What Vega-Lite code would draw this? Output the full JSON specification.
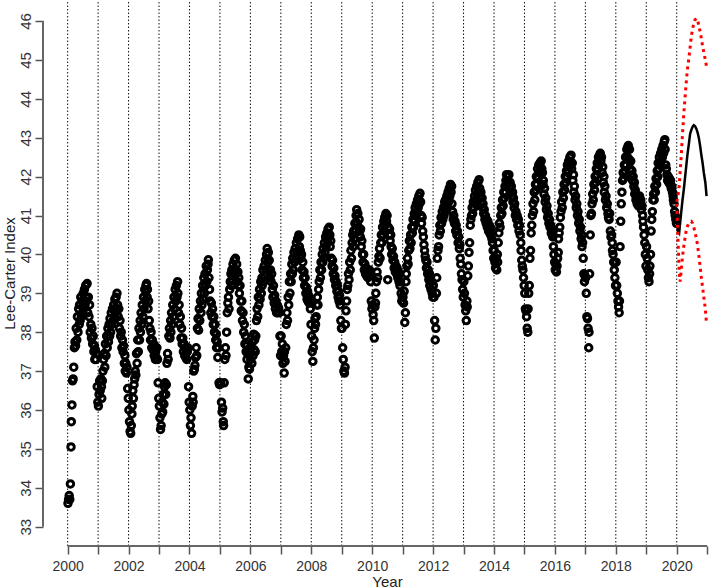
{
"$schema": "https://vega.github.io/schema/vega-lite/v6.json",
"width": 666, "height": 546,
"autosize": {"type": "none"},
"padding": {"left": 43, "top": 0, "right": 0, "bottom": 42},
"background": "white",
"config": {"view": {"stroke": null}, "font": "Liberation Sans"},
"encoding": {
 "x": {"field": "x", "type": "quantitative",
   "scale": {"domain": [1999.19, 2021.06], "nice": false, "zero": false},
   "axis": {"title": "Year", "values": [2000,2001,2002,2003,2004,2005,2006,2007,2008,2009,2010,2011,2012,2013,2014,2015,2016,2017,2018,2019,2020,2021],
     "format": "d", "labelExpr": "datum.value % 2 === 0 ? datum.label : ''",
     "domain": false, "grid": false, "tickSize": 8, "tickColor": "#555555", "tickWidth": 1.5,
     "labelFont": "Liberation Sans", "labelFontSize": 14, "labelColor": "#333333", "labelPadding": 5,
     "labelFlush": false, "labelOverlap": false, "labelBound": false,
     "titleFont": "Liberation Sans", "titleFontSize": 15, "titleFontWeight": "normal", "titleColor": "#222222",
     "titleX": 344, "titleY": 40, "titleBaseline": "alphabetic", "titleAlign": "center", "titleAnchor": null}},
 "y": {"field": "y", "type": "quantitative",
   "scale": {"domain": [32.504, 46.54], "nice": false, "zero": false},
   "axis": {"title": "Lee-Carter Index", "values": [33,34,35,36,37,38,39,40,41,42,43,44,45,46], "format": "d",
     "domain": false, "grid": false, "tickSize": 8, "tickColor": "#555555", "tickWidth": 1.5,
     "labelAngle": -90, "labelAlign": "center", "labelBaseline": "bottom", "labelPadding": 2,
     "labelFont": "Liberation Sans", "labelFontSize": 15, "labelColor": "#333333", "labelFlush": false, "labelOverlap": false, "labelBound": false,
     "titleFont": "Liberation Sans", "titleFontSize": 15, "titleFontWeight": "normal", "titleColor": "#222222",
     "titleX": -34, "titleY": 273, "titleAngle": -90, "titleAlign": "center", "titleBaseline": "middle", "titleAnchor": null}}
},
"datasets": {
"yrs": [{"x":2000,"y":32.504,"y2":46.54},{"x":2001,"y":32.504,"y2":46.54},{"x":2002,"y":32.504,"y2":46.54},{"x":2003,"y":32.504,"y2":46.54},{"x":2004,"y":32.504,"y2":46.54},{"x":2005,"y":32.504,"y2":46.54},{"x":2006,"y":32.504,"y2":46.54},{"x":2007,"y":32.504,"y2":46.54},{"x":2008,"y":32.504,"y2":46.54},{"x":2009,"y":32.504,"y2":46.54},{"x":2010,"y":32.504,"y2":46.54},{"x":2011,"y":32.504,"y2":46.54},{"x":2012,"y":32.504,"y2":46.54},{"x":2013,"y":32.504,"y2":46.54},{"x":2014,"y":32.504,"y2":46.54},{"x":2015,"y":32.504,"y2":46.54},{"x":2016,"y":32.504,"y2":46.54},{"x":2017,"y":32.504,"y2":46.54},{"x":2018,"y":32.504,"y2":46.54},{"x":2019,"y":32.504,"y2":46.54},{"x":2020,"y":32.504,"y2":46.54}],
"ax": [{"x":2000,"x2":2021,"y":32.504,"y2":32.504},{"x":1999.19,"x2":1999.19,"y":33,"y2":46}],
"fm": [{"x":2020.00,"y":40.8},{"x":2020.04,"y":40.6},{"x":2020.08,"y":40.55},{"x":2020.11,"y":40.8},{"x":2020.15,"y":41.1},{"x":2020.19,"y":41.4},{"x":2020.23,"y":41.65},{"x":2020.27,"y":41.95},{"x":2020.31,"y":42.25},{"x":2020.35,"y":42.55},{"x":2020.40,"y":42.85},{"x":2020.44,"y":43.1},{"x":2020.48,"y":43.2},{"x":2020.52,"y":43.28},{"x":2020.56,"y":43.32},{"x":2020.60,"y":43.3},{"x":2020.65,"y":43.22},{"x":2020.69,"y":43.12},{"x":2020.73,"y":42.98},{"x":2020.77,"y":42.78},{"x":2020.81,"y":42.55},{"x":2020.85,"y":42.35},{"x":2020.89,"y":42.1},{"x":2020.94,"y":41.85},{"x":2020.98,"y":41.5}],
"flo": [{"x":2020.00,"y":41.3},{"x":2020.04,"y":40.4},{"x":2020.08,"y":39.6},{"x":2020.11,"y":39.3},{"x":2020.15,"y":39.6},{"x":2020.19,"y":39.95},{"x":2020.23,"y":40.2},{"x":2020.27,"y":40.4},{"x":2020.31,"y":40.6},{"x":2020.35,"y":40.72},{"x":2020.40,"y":40.8},{"x":2020.44,"y":40.84},{"x":2020.48,"y":40.85},{"x":2020.52,"y":40.8},{"x":2020.56,"y":40.7},{"x":2020.60,"y":40.57},{"x":2020.65,"y":40.4},{"x":2020.69,"y":40.2},{"x":2020.73,"y":39.95},{"x":2020.77,"y":39.68},{"x":2020.81,"y":39.4},{"x":2020.85,"y":39.15},{"x":2020.89,"y":38.9},{"x":2020.94,"y":38.6},{"x":2020.98,"y":38.2}],
"fhi": [{"x":2020.00,"y":41.35},{"x":2020.04,"y":41.5},{"x":2020.08,"y":41.75},{"x":2020.11,"y":42.1},{"x":2020.15,"y":42.55},{"x":2020.19,"y":43.1},{"x":2020.23,"y":43.6},{"x":2020.27,"y":44.0},{"x":2020.31,"y":44.4},{"x":2020.35,"y":44.75},{"x":2020.40,"y":45.05},{"x":2020.44,"y":45.33},{"x":2020.48,"y":45.6},{"x":2020.52,"y":45.8},{"x":2020.56,"y":45.93},{"x":2020.60,"y":46.03},{"x":2020.65,"y":46.07},{"x":2020.69,"y":46.0},{"x":2020.73,"y":45.88},{"x":2020.77,"y":45.72},{"x":2020.81,"y":45.55},{"x":2020.85,"y":45.35},{"x":2020.89,"y":45.2},{"x":2020.94,"y":45.0},{"x":2020.98,"y":44.82}],
"pts": [
{"x":2000.01,"y":33.6},{"x":2000.03,"y":33.7},{"x":2000.05,"y":33.8},{"x":2000.07,"y":33.7},{"x":2000.09,"y":34.1},{"x":2000.11,"y":35.05},{"x":2000.12,"y":35.7},{"x":2000.14,"y":36.13},{"x":2000.16,"y":36.75},{"x":2000.18,"y":36.8},
{"x":2000.20,"y":37.1},{"x":2000.22,"y":37.6},{"x":2000.24,"y":37.75},{"x":2000.26,"y":37.65},{"x":2000.28,"y":38.1},{"x":2000.30,"y":37.8},{"x":2000.32,"y":38.4},{"x":2000.34,"y":38.0},{"x":2000.36,"y":38.6},{"x":2000.38,"y":38.2},
{"x":2000.39,"y":38.7},{"x":2000.41,"y":38.3},{"x":2000.43,"y":38.9},{"x":2000.45,"y":38.4},{"x":2000.47,"y":38.8},{"x":2000.49,"y":38.5},{"x":2000.51,"y":39.0},{"x":2000.53,"y":38.6},{"x":2000.55,"y":39.1},{"x":2000.57,"y":38.7},
{"x":2000.59,"y":39.2},{"x":2000.61,"y":38.8},{"x":2000.62,"y":38.9},{"x":2000.64,"y":39.25},{"x":2000.66,"y":38.5},{"x":2000.68,"y":38.9},{"x":2000.70,"y":38.4},{"x":2000.72,"y":38.7},{"x":2000.74,"y":38.0},{"x":2000.76,"y":38.2},
{"x":2000.78,"y":37.85},{"x":2000.80,"y":38.1},{"x":2000.82,"y":37.7},{"x":2000.84,"y":37.9},{"x":2000.86,"y":37.5},{"x":2000.88,"y":37.65},{"x":2000.89,"y":37.3},{"x":2000.91,"y":37.55},{"x":2000.93,"y":37.3},{"x":2000.95,"y":37.45},
{"x":2000.97,"y":36.6},{"x":2000.99,"y":36.2},
{"x":2001.01,"y":36.1},{"x":2001.03,"y":36.4},{"x":2001.05,"y":36.75},{"x":2001.07,"y":36.5},{"x":2001.09,"y":36.8},{"x":2001.11,"y":36.6},{"x":2001.12,"y":36.3},{"x":2001.14,"y":36.75},{"x":2001.16,"y":37.0},{"x":2001.18,"y":37.3},
{"x":2001.20,"y":37.45},{"x":2001.22,"y":37.1},{"x":2001.24,"y":37.7},{"x":2001.26,"y":37.4},{"x":2001.28,"y":37.9},{"x":2001.30,"y":37.6},{"x":2001.32,"y":38.1},{"x":2001.34,"y":37.75},{"x":2001.36,"y":38.2},{"x":2001.38,"y":37.9},
{"x":2001.39,"y":38.35},{"x":2001.41,"y":38.0},{"x":2001.43,"y":38.5},{"x":2001.45,"y":38.2},{"x":2001.47,"y":38.6},{"x":2001.49,"y":38.3},{"x":2001.51,"y":38.7},{"x":2001.53,"y":38.4},{"x":2001.55,"y":38.85},{"x":2001.57,"y":38.5},
{"x":2001.59,"y":38.9},{"x":2001.61,"y":38.6},{"x":2001.62,"y":39.0},{"x":2001.64,"y":38.7},{"x":2001.66,"y":38.4},{"x":2001.68,"y":38.6},{"x":2001.70,"y":38.1},{"x":2001.72,"y":38.3},{"x":2001.74,"y":37.9},{"x":2001.76,"y":38.0},
{"x":2001.78,"y":37.6},{"x":2001.80,"y":37.8},{"x":2001.82,"y":37.5},{"x":2001.84,"y":37.65},{"x":2001.86,"y":37.2},{"x":2001.88,"y":37.4},{"x":2001.89,"y":37.0},{"x":2001.91,"y":37.2},{"x":2001.93,"y":36.95},{"x":2001.95,"y":37.1},
{"x":2001.97,"y":36.55},{"x":2001.99,"y":36.3},
{"x":2002.01,"y":36.0},{"x":2002.03,"y":35.7},{"x":2002.05,"y":35.45},{"x":2002.07,"y":35.4},{"x":2002.09,"y":35.6},{"x":2002.11,"y":35.9},{"x":2002.12,"y":36.1},{"x":2002.14,"y":36.5},{"x":2002.16,"y":36.3},{"x":2002.18,"y":36.65},
{"x":2002.20,"y":36.8},{"x":2002.22,"y":37.0},{"x":2002.24,"y":36.9},{"x":2002.26,"y":37.45},{"x":2002.28,"y":37.2},{"x":2002.30,"y":37.8},{"x":2002.32,"y":37.5},{"x":2002.34,"y":38.1},{"x":2002.36,"y":37.8},{"x":2002.38,"y":38.3},
{"x":2002.39,"y":38.0},{"x":2002.41,"y":38.5},{"x":2002.43,"y":38.2},{"x":2002.45,"y":38.7},{"x":2002.47,"y":38.4},{"x":2002.49,"y":38.9},{"x":2002.51,"y":38.6},{"x":2002.53,"y":39.1},{"x":2002.55,"y":38.8},{"x":2002.57,"y":39.2},
{"x":2002.59,"y":39.25},{"x":2002.61,"y":38.9},{"x":2002.62,"y":39.1},{"x":2002.64,"y":38.6},{"x":2002.66,"y":38.8},{"x":2002.68,"y":38.3},{"x":2002.70,"y":38.1},{"x":2002.72,"y":37.8},{"x":2002.74,"y":38.0},{"x":2002.76,"y":37.6},
{"x":2002.78,"y":37.8},{"x":2002.80,"y":37.55},{"x":2002.82,"y":37.7},{"x":2002.84,"y":37.4},{"x":2002.86,"y":37.6},{"x":2002.88,"y":37.3},{"x":2002.89,"y":37.5},{"x":2002.91,"y":37.35},{"x":2002.93,"y":37.6},{"x":2002.95,"y":37.3},
{"x":2002.97,"y":36.7},{"x":2002.99,"y":36.3},
{"x":2003.01,"y":36.1},{"x":2003.03,"y":35.8},{"x":2003.05,"y":35.5},{"x":2003.07,"y":35.6},{"x":2003.09,"y":35.9},{"x":2003.11,"y":36.2},{"x":2003.12,"y":35.95},{"x":2003.14,"y":36.4},{"x":2003.16,"y":36.15},{"x":2003.18,"y":36.6},
{"x":2003.20,"y":36.7},{"x":2003.22,"y":36.4},{"x":2003.24,"y":36.65},{"x":2003.26,"y":37.2},{"x":2003.28,"y":37.45},{"x":2003.30,"y":37.3},{"x":2003.32,"y":37.9},{"x":2003.34,"y":38.1},{"x":2003.36,"y":37.85},{"x":2003.38,"y":38.3},
{"x":2003.39,"y":38.0},{"x":2003.41,"y":38.5},{"x":2003.43,"y":38.2},{"x":2003.45,"y":38.7},{"x":2003.47,"y":38.4},{"x":2003.49,"y":38.9},{"x":2003.51,"y":38.6},{"x":2003.53,"y":39.1},{"x":2003.55,"y":38.8},{"x":2003.57,"y":39.2},
{"x":2003.59,"y":38.9},{"x":2003.61,"y":39.3},{"x":2003.62,"y":39.0},{"x":2003.64,"y":38.5},{"x":2003.66,"y":38.7},{"x":2003.68,"y":38.2},{"x":2003.70,"y":38.4},{"x":2003.72,"y":37.85},{"x":2003.74,"y":38.1},{"x":2003.76,"y":37.7},
{"x":2003.78,"y":37.85},{"x":2003.80,"y":37.5},{"x":2003.82,"y":37.7},{"x":2003.84,"y":37.4},{"x":2003.86,"y":37.6},{"x":2003.88,"y":37.35},{"x":2003.89,"y":37.55},{"x":2003.91,"y":37.3},{"x":2003.93,"y":37.5},{"x":2003.95,"y":37.6},
{"x":2003.97,"y":36.6},{"x":2003.99,"y":36.2},
{"x":2004.01,"y":36.0},{"x":2004.03,"y":35.6},{"x":2004.05,"y":35.8},{"x":2004.07,"y":35.4},{"x":2004.09,"y":36.1},{"x":2004.11,"y":36.35},{"x":2004.12,"y":36.2},{"x":2004.14,"y":37.0},{"x":2004.16,"y":37.05},{"x":2004.18,"y":37.15},
{"x":2004.20,"y":37.35},{"x":2004.22,"y":37.6},{"x":2004.24,"y":37.4},{"x":2004.26,"y":38.1},{"x":2004.28,"y":38.35},{"x":2004.30,"y":38.05},{"x":2004.32,"y":38.6},{"x":2004.34,"y":38.3},{"x":2004.36,"y":38.8},{"x":2004.38,"y":38.5},
{"x":2004.39,"y":39.0},{"x":2004.41,"y":38.7},{"x":2004.43,"y":39.2},{"x":2004.45,"y":38.85},{"x":2004.47,"y":39.4},{"x":2004.49,"y":39.0},{"x":2004.51,"y":39.5},{"x":2004.53,"y":39.2},{"x":2004.55,"y":39.7},{"x":2004.57,"y":39.3},
{"x":2004.59,"y":39.6},{"x":2004.61,"y":39.75},{"x":2004.62,"y":39.86},{"x":2004.64,"y":39.4},{"x":2004.66,"y":39.1},{"x":2004.68,"y":38.8},{"x":2004.70,"y":38.5},{"x":2004.72,"y":38.75},{"x":2004.74,"y":38.4},{"x":2004.76,"y":38.6},
{"x":2004.78,"y":38.2},{"x":2004.80,"y":38.4},{"x":2004.82,"y":38.0},{"x":2004.84,"y":38.2},{"x":2004.86,"y":37.8},{"x":2004.88,"y":37.95},{"x":2004.89,"y":37.6},{"x":2004.91,"y":37.75},{"x":2004.93,"y":37.35},{"x":2004.95,"y":37.6},
{"x":2004.97,"y":36.7},{"x":2004.99,"y":36.65},
{"x":2005.01,"y":36.7},{"x":2005.03,"y":36.68},{"x":2005.05,"y":36.2},{"x":2005.07,"y":35.95},{"x":2005.09,"y":36.05},{"x":2005.11,"y":35.7},{"x":2005.12,"y":35.6},{"x":2005.14,"y":36.7},{"x":2005.16,"y":37.3},{"x":2005.18,"y":37.6},
{"x":2005.20,"y":37.4},{"x":2005.22,"y":38.0},{"x":2005.24,"y":38.5},{"x":2005.26,"y":38.75},{"x":2005.28,"y":38.9},{"x":2005.30,"y":38.6},{"x":2005.32,"y":39.1},{"x":2005.34,"y":39.3},{"x":2005.36,"y":39.5},{"x":2005.38,"y":39.2},
{"x":2005.39,"y":39.6},{"x":2005.41,"y":39.35},{"x":2005.43,"y":39.75},{"x":2005.45,"y":39.5},{"x":2005.47,"y":39.85},{"x":2005.49,"y":39.6},{"x":2005.51,"y":39.9},{"x":2005.53,"y":39.5},{"x":2005.55,"y":39.75},{"x":2005.57,"y":39.3},
{"x":2005.59,"y":39.55},{"x":2005.61,"y":39.2},{"x":2005.62,"y":39.4},{"x":2005.64,"y":39.0},{"x":2005.66,"y":39.2},{"x":2005.68,"y":38.8},{"x":2005.70,"y":38.55},{"x":2005.72,"y":38.8},{"x":2005.74,"y":38.3},{"x":2005.76,"y":38.5},
{"x":2005.78,"y":38.0},{"x":2005.80,"y":38.2},{"x":2005.82,"y":37.7},{"x":2005.84,"y":37.9},{"x":2005.86,"y":37.5},{"x":2005.88,"y":37.65},{"x":2005.89,"y":37.3},{"x":2005.91,"y":37.45},{"x":2005.93,"y":36.8},{"x":2005.95,"y":37.1},
{"x":2005.97,"y":37.05},{"x":2005.99,"y":37.5},
{"x":2006.01,"y":37.3},{"x":2006.03,"y":37.6},{"x":2006.05,"y":37.2},{"x":2006.07,"y":37.75},{"x":2006.09,"y":37.4},{"x":2006.11,"y":37.95},{"x":2006.12,"y":37.55},{"x":2006.14,"y":37.8},{"x":2006.16,"y":37.5},{"x":2006.18,"y":37.9},
{"x":2006.20,"y":38.3},{"x":2006.22,"y":38.6},{"x":2006.24,"y":38.4},{"x":2006.26,"y":38.9},{"x":2006.28,"y":38.7},{"x":2006.30,"y":39.1},{"x":2006.32,"y":38.85},{"x":2006.34,"y":39.3},{"x":2006.36,"y":39.0},{"x":2006.38,"y":39.4},
{"x":2006.39,"y":39.2},{"x":2006.41,"y":39.6},{"x":2006.43,"y":39.3},{"x":2006.45,"y":39.7},{"x":2006.47,"y":39.45},{"x":2006.49,"y":39.85},{"x":2006.51,"y":39.6},{"x":2006.53,"y":40.0},{"x":2006.55,"y":40.15},{"x":2006.57,"y":39.8},
{"x":2006.59,"y":40.05},{"x":2006.61,"y":39.6},{"x":2006.62,"y":39.85},{"x":2006.64,"y":39.4},{"x":2006.66,"y":39.6},{"x":2006.68,"y":39.3},{"x":2006.70,"y":39.5},{"x":2006.72,"y":39.1},{"x":2006.74,"y":38.9},{"x":2006.76,"y":39.2},
{"x":2006.78,"y":38.75},{"x":2006.80,"y":38.95},{"x":2006.82,"y":38.6},{"x":2006.84,"y":38.8},{"x":2006.86,"y":38.5},{"x":2006.88,"y":38.7},{"x":2006.89,"y":38.5},{"x":2006.91,"y":38.65},{"x":2006.93,"y":38.6},{"x":2006.95,"y":38.5},
{"x":2006.97,"y":37.9},{"x":2006.99,"y":37.4},
{"x":2007.01,"y":37.9},{"x":2007.03,"y":37.5},{"x":2007.05,"y":37.7},{"x":2007.07,"y":37.2},{"x":2007.09,"y":37.4},{"x":2007.11,"y":36.95},{"x":2007.12,"y":37.5},{"x":2007.14,"y":37.25},{"x":2007.16,"y":37.6},{"x":2007.18,"y":38.2},
{"x":2007.20,"y":38.5},{"x":2007.22,"y":38.3},{"x":2007.24,"y":38.9},{"x":2007.26,"y":38.7},{"x":2007.28,"y":39.3},{"x":2007.30,"y":39.0},{"x":2007.32,"y":39.5},{"x":2007.34,"y":39.3},{"x":2007.36,"y":39.75},{"x":2007.38,"y":39.5},
{"x":2007.39,"y":39.9},{"x":2007.41,"y":39.6},{"x":2007.43,"y":40.05},{"x":2007.45,"y":39.8},{"x":2007.47,"y":40.15},{"x":2007.49,"y":39.9},{"x":2007.51,"y":40.3},{"x":2007.53,"y":40.05},{"x":2007.55,"y":40.4},{"x":2007.57,"y":40.1},
{"x":2007.59,"y":40.5},{"x":2007.61,"y":40.2},{"x":2007.62,"y":40.45},{"x":2007.64,"y":40.1},{"x":2007.66,"y":39.9},{"x":2007.68,"y":40.0},{"x":2007.70,"y":39.6},{"x":2007.72,"y":39.8},{"x":2007.74,"y":39.4},{"x":2007.76,"y":39.55},
{"x":2007.78,"y":39.2},{"x":2007.80,"y":39.4},{"x":2007.82,"y":39.0},{"x":2007.84,"y":39.15},{"x":2007.86,"y":38.85},{"x":2007.88,"y":39.05},{"x":2007.89,"y":38.8},{"x":2007.91,"y":38.95},{"x":2007.93,"y":38.75},{"x":2007.95,"y":38.85},
{"x":2007.97,"y":38.6},{"x":2007.99,"y":38.2},
{"x":2008.01,"y":37.9},{"x":2008.03,"y":37.5},{"x":2008.05,"y":37.25},{"x":2008.07,"y":37.6},{"x":2008.09,"y":37.8},{"x":2008.11,"y":38.1},{"x":2008.12,"y":38.35},{"x":2008.14,"y":38.2},{"x":2008.16,"y":38.4},{"x":2008.18,"y":38.7},
{"x":2008.20,"y":38.9},{"x":2008.22,"y":38.7},{"x":2008.24,"y":39.1},{"x":2008.26,"y":39.3},{"x":2008.28,"y":39.6},{"x":2008.30,"y":39.4},{"x":2008.32,"y":39.8},{"x":2008.34,"y":39.6},{"x":2008.36,"y":40.0},{"x":2008.38,"y":39.8},
{"x":2008.39,"y":40.15},{"x":2008.41,"y":39.9},{"x":2008.43,"y":40.3},{"x":2008.45,"y":40.05},{"x":2008.47,"y":40.45},{"x":2008.49,"y":40.2},{"x":2008.51,"y":40.55},{"x":2008.53,"y":40.35},{"x":2008.55,"y":40.65},{"x":2008.57,"y":40.45},
{"x":2008.59,"y":40.7},{"x":2008.61,"y":40.5},{"x":2008.62,"y":40.2},{"x":2008.64,"y":40.35},{"x":2008.66,"y":39.9},{"x":2008.68,"y":39.7},{"x":2008.70,"y":39.85},{"x":2008.72,"y":39.5},{"x":2008.74,"y":39.65},{"x":2008.76,"y":39.35},
{"x":2008.78,"y":39.45},{"x":2008.80,"y":39.2},{"x":2008.82,"y":39.3},{"x":2008.84,"y":39.05},{"x":2008.86,"y":39.2},{"x":2008.88,"y":38.9},{"x":2008.89,"y":39.05},{"x":2008.91,"y":38.8},{"x":2008.93,"y":38.95},{"x":2008.95,"y":38.7},
{"x":2008.97,"y":38.3},{"x":2008.99,"y":38.1},
{"x":2009.01,"y":38.1},{"x":2009.03,"y":37.6},{"x":2009.05,"y":37.3},{"x":2009.07,"y":37.0},{"x":2009.09,"y":36.95},{"x":2009.11,"y":37.1},{"x":2009.12,"y":38.2},{"x":2009.14,"y":38.55},{"x":2009.16,"y":38.8},{"x":2009.18,"y":39.1},
{"x":2009.20,"y":39.2},{"x":2009.22,"y":39.5},{"x":2009.24,"y":39.35},{"x":2009.26,"y":39.8},{"x":2009.28,"y":39.6},{"x":2009.30,"y":40.1},{"x":2009.32,"y":39.9},{"x":2009.34,"y":40.3},{"x":2009.36,"y":40.5},{"x":2009.38,"y":40.2},
{"x":2009.39,"y":40.6},{"x":2009.41,"y":40.4},{"x":2009.43,"y":40.8},{"x":2009.45,"y":40.6},{"x":2009.47,"y":41.0},{"x":2009.49,"y":41.15},{"x":2009.51,"y":40.8},{"x":2009.53,"y":41.05},{"x":2009.55,"y":40.7},{"x":2009.57,"y":40.9},
{"x":2009.59,"y":40.6},{"x":2009.61,"y":40.45},{"x":2009.62,"y":40.65},{"x":2009.64,"y":40.2},{"x":2009.66,"y":40.35},{"x":2009.68,"y":40.0},{"x":2009.70,"y":39.8},{"x":2009.72,"y":40.0},{"x":2009.74,"y":39.6},{"x":2009.76,"y":39.75},
{"x":2009.78,"y":39.5},{"x":2009.80,"y":39.65},{"x":2009.82,"y":39.45},{"x":2009.84,"y":39.6},{"x":2009.86,"y":39.4},{"x":2009.88,"y":39.55},{"x":2009.89,"y":39.45},{"x":2009.91,"y":39.6},{"x":2009.93,"y":39.5},{"x":2009.95,"y":39.3},
{"x":2009.97,"y":38.8},{"x":2009.99,"y":38.6},
{"x":2010.01,"y":38.7},{"x":2010.03,"y":38.45},{"x":2010.05,"y":38.3},{"x":2010.07,"y":37.85},{"x":2010.09,"y":38.65},{"x":2010.11,"y":38.75},{"x":2010.12,"y":39.0},{"x":2010.14,"y":39.3},{"x":2010.16,"y":39.55},{"x":2010.18,"y":39.4},
{"x":2010.20,"y":39.8},{"x":2010.22,"y":39.95},{"x":2010.24,"y":40.15},{"x":2010.26,"y":39.9},{"x":2010.28,"y":40.3},{"x":2010.30,"y":40.5},{"x":2010.32,"y":40.3},{"x":2010.34,"y":40.7},{"x":2010.36,"y":40.5},{"x":2010.38,"y":40.85},
{"x":2010.39,"y":40.6},{"x":2010.41,"y":40.95},{"x":2010.43,"y":40.75},{"x":2010.45,"y":41.05},{"x":2010.47,"y":40.85},{"x":2010.49,"y":41.0},{"x":2010.51,"y":39.35},{"x":2010.53,"y":40.7},{"x":2010.55,"y":40.5},{"x":2010.57,"y":40.65},
{"x":2010.59,"y":40.35},{"x":2010.61,"y":40.5},{"x":2010.62,"y":40.2},{"x":2010.64,"y":40.0},{"x":2010.66,"y":40.15},{"x":2010.68,"y":39.85},{"x":2010.70,"y":39.95},{"x":2010.72,"y":39.65},{"x":2010.74,"y":39.8},{"x":2010.76,"y":39.55},
{"x":2010.78,"y":39.7},{"x":2010.80,"y":39.5},{"x":2010.82,"y":39.65},{"x":2010.84,"y":39.4},{"x":2010.86,"y":39.55},{"x":2010.88,"y":39.3},{"x":2010.89,"y":39.5},{"x":2010.91,"y":39.2},{"x":2010.93,"y":39.3},{"x":2010.95,"y":39.0},
{"x":2010.97,"y":38.8},{"x":2010.99,"y":38.9},
{"x":2011.01,"y":38.9},{"x":2011.03,"y":38.75},{"x":2011.05,"y":39.05},{"x":2011.07,"y":38.25},{"x":2011.09,"y":38.5},{"x":2011.11,"y":39.3},{"x":2011.12,"y":39.5},{"x":2011.14,"y":39.7},{"x":2011.16,"y":39.9},{"x":2011.18,"y":39.75},
{"x":2011.20,"y":40.1},{"x":2011.22,"y":40.35},{"x":2011.24,"y":40.15},{"x":2011.26,"y":40.5},{"x":2011.28,"y":40.3},{"x":2011.30,"y":40.7},{"x":2011.32,"y":40.55},{"x":2011.34,"y":40.9},{"x":2011.36,"y":40.7},{"x":2011.38,"y":41.05},
{"x":2011.39,"y":40.85},{"x":2011.41,"y":41.2},{"x":2011.43,"y":41.0},{"x":2011.45,"y":41.3},{"x":2011.47,"y":41.1},{"x":2011.49,"y":41.4},{"x":2011.51,"y":41.2},{"x":2011.53,"y":41.5},{"x":2011.55,"y":41.3},{"x":2011.57,"y":41.57},
{"x":2011.59,"y":41.35},{"x":2011.61,"y":41.0},{"x":2011.62,"y":40.8},{"x":2011.64,"y":40.95},{"x":2011.66,"y":40.6},{"x":2011.68,"y":40.45},{"x":2011.70,"y":40.25},{"x":2011.72,"y":40.1},{"x":2011.74,"y":39.95},{"x":2011.76,"y":39.85},
{"x":2011.78,"y":39.65},{"x":2011.80,"y":39.8},{"x":2011.82,"y":39.5},{"x":2011.84,"y":39.6},{"x":2011.86,"y":39.35},{"x":2011.88,"y":39.5},{"x":2011.89,"y":39.2},{"x":2011.91,"y":39.4},{"x":2011.93,"y":39.1},{"x":2011.95,"y":39.3},
{"x":2011.97,"y":39.0},{"x":2011.99,"y":38.9},
{"x":2012.01,"y":39.2},{"x":2012.03,"y":38.9},{"x":2012.05,"y":38.3},{"x":2012.07,"y":37.8},{"x":2012.09,"y":38.1},{"x":2012.11,"y":39.0},{"x":2012.12,"y":39.4},{"x":2012.14,"y":39.9},{"x":2012.16,"y":40.1},{"x":2012.18,"y":40.2},
{"x":2012.20,"y":40.5},{"x":2012.22,"y":40.75},{"x":2012.24,"y":40.6},{"x":2012.26,"y":40.95},{"x":2012.28,"y":40.8},{"x":2012.30,"y":41.1},{"x":2012.32,"y":40.9},{"x":2012.34,"y":41.2},{"x":2012.36,"y":41.0},{"x":2012.38,"y":41.35},
{"x":2012.39,"y":41.1},{"x":2012.41,"y":41.4},{"x":2012.43,"y":41.2},{"x":2012.45,"y":41.5},{"x":2012.47,"y":41.3},{"x":2012.49,"y":41.6},{"x":2012.51,"y":41.35},{"x":2012.53,"y":41.7},{"x":2012.55,"y":41.5},{"x":2012.57,"y":41.8},
{"x":2012.59,"y":41.6},{"x":2012.61,"y":41.75},{"x":2012.62,"y":41.3},{"x":2012.64,"y":41.1},{"x":2012.66,"y":40.9},{"x":2012.68,"y":41.0},{"x":2012.70,"y":40.8},{"x":2012.72,"y":40.85},{"x":2012.74,"y":40.6},{"x":2012.76,"y":40.75},
{"x":2012.78,"y":40.5},{"x":2012.80,"y":40.6},{"x":2012.82,"y":40.3},{"x":2012.84,"y":40.45},{"x":2012.86,"y":40.15},{"x":2012.88,"y":40.25},{"x":2012.89,"y":39.9},{"x":2012.91,"y":39.75},{"x":2012.93,"y":39.5},{"x":2012.95,"y":39.35},
{"x":2012.97,"y":39.1},{"x":2012.99,"y":38.9},
{"x":2013.01,"y":39.3},{"x":2013.03,"y":39.0},{"x":2013.05,"y":38.7},{"x":2013.07,"y":38.55},{"x":2013.09,"y":38.3},{"x":2013.11,"y":38.8},{"x":2013.12,"y":38.65},{"x":2013.14,"y":39.45},{"x":2013.16,"y":39.7},{"x":2013.18,"y":40.05},
{"x":2013.20,"y":40.3},{"x":2013.22,"y":40.75},{"x":2013.24,"y":40.9},{"x":2013.26,"y":41.0},{"x":2013.28,"y":41.2},{"x":2013.30,"y":41.05},{"x":2013.32,"y":41.35},{"x":2013.34,"y":41.2},{"x":2013.36,"y":41.5},{"x":2013.38,"y":41.3},
{"x":2013.39,"y":41.65},{"x":2013.41,"y":41.4},{"x":2013.43,"y":41.75},{"x":2013.45,"y":41.55},{"x":2013.47,"y":41.85},{"x":2013.49,"y":41.6},{"x":2013.51,"y":41.92},{"x":2013.53,"y":41.7},{"x":2013.55,"y":41.5},{"x":2013.57,"y":41.6},
{"x":2013.59,"y":41.35},{"x":2013.61,"y":41.45},{"x":2013.62,"y":41.2},{"x":2013.64,"y":41.3},{"x":2013.66,"y":41.05},{"x":2013.68,"y":41.15},{"x":2013.70,"y":40.9},{"x":2013.72,"y":41.0},{"x":2013.74,"y":40.8},{"x":2013.76,"y":40.9},
{"x":2013.78,"y":40.7},{"x":2013.80,"y":40.85},{"x":2013.82,"y":40.6},{"x":2013.84,"y":40.75},{"x":2013.86,"y":40.55},{"x":2013.88,"y":40.7},{"x":2013.89,"y":40.5},{"x":2013.91,"y":40.65},{"x":2013.93,"y":40.4},{"x":2013.95,"y":40.3},
{"x":2013.97,"y":40.1},{"x":2013.99,"y":39.9},
{"x":2014.01,"y":40.1},{"x":2014.03,"y":39.8},{"x":2014.05,"y":39.65},{"x":2014.07,"y":39.9},{"x":2014.09,"y":39.6},{"x":2014.11,"y":40.0},{"x":2014.12,"y":39.8},{"x":2014.14,"y":40.3},{"x":2014.16,"y":40.55},{"x":2014.18,"y":40.8},
{"x":2014.20,"y":40.7},{"x":2014.22,"y":41.0},{"x":2014.24,"y":41.2},{"x":2014.26,"y":41.05},{"x":2014.28,"y":41.4},{"x":2014.30,"y":41.25},{"x":2014.32,"y":41.6},{"x":2014.34,"y":41.45},{"x":2014.36,"y":41.75},{"x":2014.38,"y":41.6},
{"x":2014.39,"y":41.9},{"x":2014.41,"y":42.05},{"x":2014.43,"y":41.8},{"x":2014.45,"y":42.0},{"x":2014.47,"y":41.85},{"x":2014.49,"y":42.05},{"x":2014.51,"y":41.7},{"x":2014.53,"y":41.85},{"x":2014.55,"y":41.6},{"x":2014.57,"y":41.75},
{"x":2014.59,"y":41.5},{"x":2014.61,"y":41.6},{"x":2014.62,"y":41.35},{"x":2014.64,"y":41.45},{"x":2014.66,"y":41.2},{"x":2014.68,"y":41.3},{"x":2014.70,"y":41.0},{"x":2014.72,"y":41.1},{"x":2014.74,"y":40.9},{"x":2014.76,"y":41.0},
{"x":2014.78,"y":40.75},{"x":2014.80,"y":40.9},{"x":2014.82,"y":40.6},{"x":2014.84,"y":40.75},{"x":2014.86,"y":40.5},{"x":2014.88,"y":40.3},{"x":2014.89,"y":40.1},{"x":2014.91,"y":39.85},{"x":2014.93,"y":39.7},{"x":2014.95,"y":39.6},
{"x":2014.97,"y":39.4},{"x":2014.99,"y":39.2},
{"x":2015.01,"y":39.0},{"x":2015.03,"y":38.6},{"x":2015.05,"y":38.55},{"x":2015.07,"y":38.4},{"x":2015.09,"y":38.1},{"x":2015.11,"y":38.0},{"x":2015.12,"y":38.6},{"x":2015.14,"y":39.0},{"x":2015.16,"y":39.2},{"x":2015.18,"y":39.9},
{"x":2015.20,"y":40.1},{"x":2015.22,"y":40.55},{"x":2015.24,"y":40.75},{"x":2015.26,"y":41.0},{"x":2015.28,"y":41.3},{"x":2015.30,"y":41.1},{"x":2015.32,"y":41.6},{"x":2015.34,"y":41.4},{"x":2015.36,"y":41.8},{"x":2015.38,"y":41.65},
{"x":2015.39,"y":42.0},{"x":2015.41,"y":41.8},{"x":2015.43,"y":42.2},{"x":2015.45,"y":41.95},{"x":2015.47,"y":42.3},{"x":2015.49,"y":42.1},{"x":2015.51,"y":42.35},{"x":2015.53,"y":42.15},{"x":2015.55,"y":42.4},{"x":2015.57,"y":42.2},
{"x":2015.59,"y":42.1},{"x":2015.61,"y":41.8},{"x":2015.62,"y":41.9},{"x":2015.64,"y":41.55},{"x":2015.66,"y":41.7},{"x":2015.68,"y":41.35},{"x":2015.70,"y":41.45},{"x":2015.72,"y":41.15},{"x":2015.74,"y":41.25},{"x":2015.76,"y":40.95},
{"x":2015.78,"y":41.05},{"x":2015.80,"y":40.8},{"x":2015.82,"y":40.9},{"x":2015.84,"y":40.7},{"x":2015.86,"y":40.75},{"x":2015.88,"y":40.55},{"x":2015.89,"y":40.65},{"x":2015.91,"y":40.5},{"x":2015.93,"y":40.45},{"x":2015.95,"y":40.2},
{"x":2015.97,"y":40.0},{"x":2015.99,"y":39.8},
{"x":2016.01,"y":39.6},{"x":2016.03,"y":39.75},{"x":2016.05,"y":39.55},{"x":2016.07,"y":39.7},{"x":2016.09,"y":39.9},{"x":2016.11,"y":40.05},{"x":2016.12,"y":40.4},{"x":2016.14,"y":40.55},{"x":2016.16,"y":40.7},{"x":2016.18,"y":40.95},
{"x":2016.20,"y":41.1},{"x":2016.22,"y":41.35},{"x":2016.24,"y":41.2},{"x":2016.26,"y":41.6},{"x":2016.28,"y":41.45},{"x":2016.30,"y":41.8},{"x":2016.32,"y":41.65},{"x":2016.34,"y":42.0},{"x":2016.36,"y":41.85},{"x":2016.38,"y":42.15},
{"x":2016.39,"y":42.0},{"x":2016.41,"y":42.3},{"x":2016.43,"y":42.1},{"x":2016.45,"y":42.4},{"x":2016.47,"y":42.25},{"x":2016.49,"y":42.5},{"x":2016.51,"y":42.3},{"x":2016.53,"y":42.55},{"x":2016.55,"y":42.2},{"x":2016.57,"y":42.35},
{"x":2016.59,"y":41.9},{"x":2016.61,"y":42.05},{"x":2016.62,"y":41.6},{"x":2016.64,"y":41.75},{"x":2016.66,"y":41.4},{"x":2016.68,"y":41.5},{"x":2016.70,"y":41.2},{"x":2016.72,"y":41.3},{"x":2016.74,"y":41.0},{"x":2016.76,"y":41.1},
{"x":2016.78,"y":40.8},{"x":2016.80,"y":40.9},{"x":2016.82,"y":40.6},{"x":2016.84,"y":40.7},{"x":2016.86,"y":40.4},{"x":2016.88,"y":40.5},{"x":2016.89,"y":40.2},{"x":2016.91,"y":40.3},{"x":2016.93,"y":39.9},{"x":2016.95,"y":39.5},
{"x":2016.97,"y":39.3},{"x":2016.99,"y":39.45},
{"x":2017.01,"y":39.4},{"x":2017.03,"y":39.0},{"x":2017.05,"y":38.4},{"x":2017.07,"y":38.35},{"x":2017.09,"y":38.1},{"x":2017.11,"y":37.6},{"x":2017.12,"y":38.0},{"x":2017.14,"y":39.5},{"x":2017.16,"y":40.5},{"x":2017.18,"y":41.0},
{"x":2017.20,"y":41.05},{"x":2017.22,"y":41.3},{"x":2017.24,"y":41.55},{"x":2017.26,"y":41.4},{"x":2017.28,"y":41.8},{"x":2017.30,"y":41.65},{"x":2017.32,"y":42.0},{"x":2017.34,"y":41.85},{"x":2017.36,"y":42.2},{"x":2017.38,"y":42.05},
{"x":2017.39,"y":42.35},{"x":2017.41,"y":42.2},{"x":2017.43,"y":42.5},{"x":2017.45,"y":42.3},{"x":2017.47,"y":42.55},{"x":2017.49,"y":42.6},{"x":2017.51,"y":42.4},{"x":2017.53,"y":42.5},{"x":2017.55,"y":42.1},{"x":2017.57,"y":42.25},
{"x":2017.59,"y":41.85},{"x":2017.61,"y":42.0},{"x":2017.62,"y":41.6},{"x":2017.64,"y":41.75},{"x":2017.66,"y":41.4},{"x":2017.68,"y":41.5},{"x":2017.70,"y":41.2},{"x":2017.72,"y":41.3},{"x":2017.74,"y":41.05},{"x":2017.76,"y":40.95},
{"x":2017.78,"y":40.9},{"x":2017.80,"y":41.05},{"x":2017.82,"y":40.6},{"x":2017.84,"y":40.45},{"x":2017.86,"y":40.5},{"x":2017.88,"y":40.3},{"x":2017.89,"y":40.1},{"x":2017.91,"y":40.0},{"x":2017.93,"y":39.8},{"x":2017.95,"y":39.6},
{"x":2017.97,"y":39.4},{"x":2017.99,"y":39.2},
{"x":2018.01,"y":39.8},{"x":2018.03,"y":39.2},{"x":2018.05,"y":39.0},{"x":2018.07,"y":38.8},{"x":2018.09,"y":38.65},{"x":2018.11,"y":38.5},{"x":2018.12,"y":38.8},{"x":2018.14,"y":40.2},{"x":2018.16,"y":40.85},{"x":2018.18,"y":41.3},
{"x":2018.20,"y":41.6},{"x":2018.22,"y":41.9},{"x":2018.24,"y":42.1},{"x":2018.26,"y":41.95},{"x":2018.28,"y":42.3},{"x":2018.30,"y":42.15},{"x":2018.32,"y":42.5},{"x":2018.34,"y":42.3},{"x":2018.36,"y":42.7},{"x":2018.38,"y":42.5},
{"x":2018.39,"y":42.75},{"x":2018.41,"y":42.8},{"x":2018.43,"y":42.45},{"x":2018.45,"y":42.7},{"x":2018.47,"y":42.2},{"x":2018.49,"y":42.4},{"x":2018.51,"y":42.0},{"x":2018.53,"y":42.15},{"x":2018.55,"y":41.9},{"x":2018.57,"y":42.0},
{"x":2018.59,"y":41.75},{"x":2018.61,"y":41.85},{"x":2018.62,"y":41.55},{"x":2018.64,"y":41.65},{"x":2018.66,"y":41.4},{"x":2018.68,"y":41.5},{"x":2018.70,"y":41.3},{"x":2018.72,"y":41.45},{"x":2018.74,"y":41.25},{"x":2018.76,"y":41.4},
{"x":2018.78,"y":41.5},{"x":2018.80,"y":41.3},{"x":2018.82,"y":41.4},{"x":2018.84,"y":41.15},{"x":2018.86,"y":41.25},{"x":2018.88,"y":41.0},{"x":2018.89,"y":40.85},{"x":2018.91,"y":40.7},{"x":2018.93,"y":40.5},{"x":2018.95,"y":40.3},
{"x":2018.97,"y":40.0},{"x":2018.99,"y":39.7},
{"x":2019.01,"y":40.2},{"x":2019.03,"y":39.9},{"x":2019.05,"y":39.6},{"x":2019.07,"y":39.4},{"x":2019.09,"y":39.3},{"x":2019.11,"y":39.5},{"x":2019.12,"y":39.7},{"x":2019.14,"y":40.0},{"x":2019.16,"y":40.6},{"x":2019.18,"y":40.9},
{"x":2019.20,"y":41.1},{"x":2019.22,"y":41.4},{"x":2019.24,"y":41.55},{"x":2019.26,"y":41.4},{"x":2019.28,"y":41.75},{"x":2019.30,"y":41.6},{"x":2019.32,"y":41.95},{"x":2019.34,"y":41.8},{"x":2019.36,"y":42.15},{"x":2019.38,"y":42.0},
{"x":2019.39,"y":42.35},{"x":2019.41,"y":42.2},{"x":2019.43,"y":42.5},{"x":2019.45,"y":42.3},{"x":2019.47,"y":42.6},{"x":2019.49,"y":42.4},{"x":2019.51,"y":42.7},{"x":2019.53,"y":42.5},{"x":2019.55,"y":42.8},{"x":2019.57,"y":42.6},
{"x":2019.59,"y":42.9},{"x":2019.61,"y":42.95},{"x":2019.62,"y":42.7},{"x":2019.64,"y":42.3},{"x":2019.66,"y":42.2},{"x":2019.68,"y":42.05},{"x":2019.70,"y":41.9},{"x":2019.72,"y":42.0},{"x":2019.74,"y":41.85},{"x":2019.76,"y":41.95},
{"x":2019.78,"y":41.8},{"x":2019.80,"y":41.9},{"x":2019.82,"y":41.7},{"x":2019.84,"y":41.75},{"x":2019.86,"y":41.6},{"x":2019.88,"y":41.5},{"x":2019.89,"y":41.4},{"x":2019.91,"y":41.3},{"x":2019.93,"y":41.1},{"x":2019.95,"y":41.0},
{"x":2019.97,"y":40.9},{"x":2019.99,"y":40.8}
]
},
"layer": [
{"data": {"name": "yrs"},
 "mark": {"type": "rule", "color": "#111111", "strokeWidth": 1, "strokeDash": [1.5, 2]},
 "encoding": {"y2": {"field": "y2"}}},
{"data": {"name": "pts"},
 "mark": {"type": "point", "shape": "circle", "filled": false, "stroke": "#000000", "strokeWidth": 3, "size": 42, "opacity": 1}},
{"data": {"name": "fm"},
 "mark": {"type": "line", "color": "#000000", "strokeWidth": 2.5},
 "encoding": {}},
{"data": {"name": "flo"},
 "mark": {"type": "line", "color": "#ff0000", "strokeWidth": 3, "strokeDash": [3, 4]},
 "encoding": {}},
{"data": {"name": "fhi"},
 "mark": {"type": "line", "color": "#ff0000", "strokeWidth": 3, "strokeDash": [3, 4]},
 "encoding": {}},
{"data": {"name": "ax"},
 "mark": {"type": "rule", "color": "#666666", "strokeWidth": 2},
 "encoding": {"x2": {"field": "x2"}, "y2": {"field": "y2"}}}
]
}
